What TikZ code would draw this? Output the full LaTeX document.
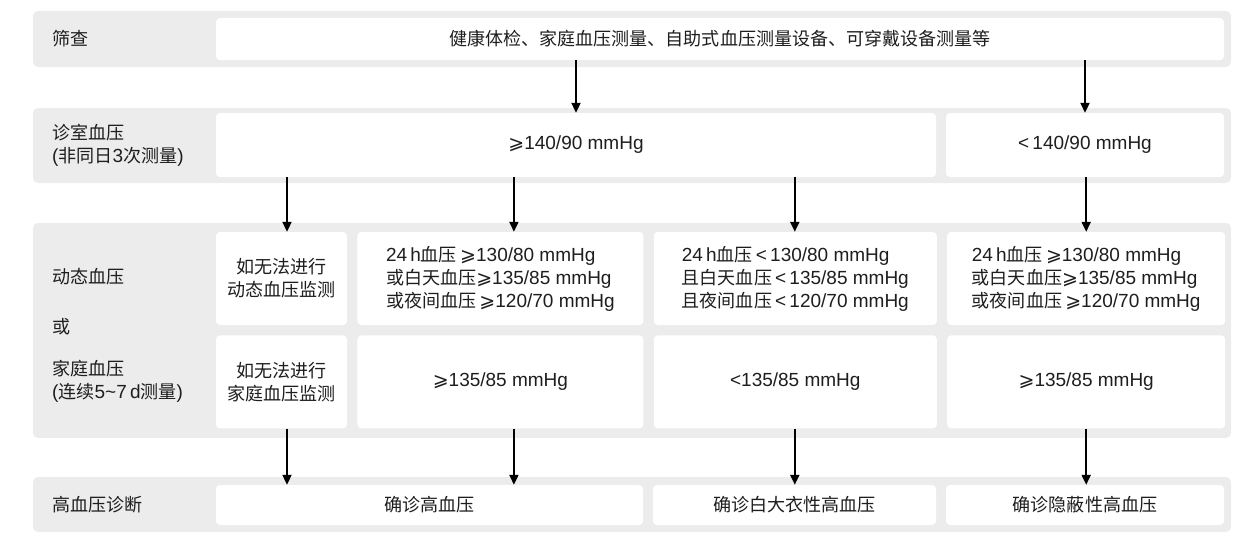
\documentclass[tikz,border=0pt]{standalone}
\usepackage{fontspec}
\setmainfont{Liberation Sans}
\newfontfamily\zhfont[Scale=0.95]{Noto Sans CJK SC}
\newfontfamily\symfont{DejaVu Sans}
\newcommand{\zh}[1]{{\zhfont #1}}
\newcommand{\geqs}{{\symfont ⩾}}
\usetikzlibrary{positioning, arrows.meta}
\definecolor{bandgray}{RGB}{236,236,236}
\definecolor{txt}{RGB}{30,30,30}
\tikzset{
>={Triangle[length=10pt, width=9pt]}, % solid arrow heads
band/.style={fill=bandgray, rounded corners=5pt, minimum width=1198pt, inner sep=0pt}, % grey stripe behind each step
cell/.style={fill=white, rounded corners=4pt, inner sep=0pt, align=center, text=txt}, % white boxes
rowlabel/.style={anchor=west, align=left, text=txt, inner sep=0pt}, % labels on the left
flow/.style={->, line width=2pt},
}

\begin{document}
\begin{tikzpicture}[x=1pt, y=-1pt, font=\fontsize{19}{23}\selectfont]
    \useasboundingbox (0,0) rectangle (1249,551);
    % stripes
    \node[band, minimum height=56pt] (screenband) at (632,39) {};
    \node[band, minimum height=75pt] (officeband) at (632,145.5) {};
    \node[band, minimum height=215pt] (outband) at (632,330.5) {};
    \node[band, minimum height=55pt] (diagband) at (632,504.5) {};
    % left labels
    \node[rowlabel] (screenlbl) at (52,39) {\zh{筛查}};
    \node[rowlabel] (officelbl) at (52,145) {\zh{诊室血压}\\(\zh{非同日}3\zh{次测量})};
    \node[rowlabel] (abplbl) at (52,277) {\zh{动态血压}};
    \node[rowlabel] (orlbl) at (52,327) {\zh{或}};
    \node[rowlabel] (hbplbl) at (52,381) {\zh{家庭血压}\\(\zh{连续}5\textasciitilde7\,d\zh{测量})};
    \node[rowlabel] (diaglbl) at (52,505) {\zh{高血压诊断}};
    % screening and office
    \node[cell, minimum width=1008pt, minimum height=42pt] (screen) at (720,39) {\zh{健康体检、家庭血压测量、自助式血压测量设备、可穿戴设备测量等}};
    \node[cell, minimum width=720pt, minimum height=64pt] (high) at (576,145) {\geqs140/90 mmHg};
    \node[cell, minimum width=278pt, minimum height=64pt] (low) at (1085,145) {<\,140/90 mmHg};
    % ambulatory / home
    \node[cell, minimum width=131pt, minimum height=93pt] (abpnone) at (281.5,278.5) {\zh{如无法进行}\\\zh{动态血压监测}};
    \node[cell, minimum width=286pt, minimum height=93pt, right=10pt of abpnone, align=left] (abphigh)
        {24\,h\zh{血压}\,\geqs130/80 mmHg\\\zh{或白天血压}\geqs135/85 mmHg\\\zh{或夜间血压}\,\geqs120/70 mmHg};
    \node[cell, minimum width=283pt, minimum height=93pt, right=10pt of abphigh, align=left] (abplow)
        {24\,h\zh{血压}\,<\,130/80 mmHg\\\zh{且白天血压}\,<\,135/85 mmHg\\\zh{且夜间血压}\,<\,120/70 mmHg};
    \node[cell, minimum width=278pt, minimum height=93pt, right=10pt of abplow, align=left] (abpmask)
        {24\,h\zh{血压}\,\geqs130/80 mmHg\\\zh{或白天血压}\geqs135/85 mmHg\\\zh{或夜间血压}\,\geqs120/70 mmHg};
    \node[cell, minimum width=131pt, minimum height=93pt, below=10pt of abpnone] (hbpnone) {\zh{如无法进行}\\\zh{家庭血压监测}};
    \node[cell, minimum width=286pt, minimum height=93pt, below=10pt of abphigh] (hbphigh) {\geqs135/85 mmHg};
    \node[cell, minimum width=283pt, minimum height=93pt, below=10pt of abplow] (hbplow) {<135/85 mmHg};
    \node[cell, minimum width=278pt, minimum height=93pt, below=10pt of abpmask] (hbpmask) {\geqs135/85 mmHg};
    % diagnosis
    \node[cell, minimum width=427pt, minimum height=40pt] (confirmed) at (429.5,505) {\zh{确诊高血压}};
    \node[cell, minimum width=283pt, minimum height=40pt] (whitecoat) at (794.5,505) {\zh{确诊白大衣性高血压}};
    \node[cell, minimum width=278pt, minimum height=40pt] (masked) at (1085,505) {\zh{确诊隐蔽性高血压}};
    % arrows
    \draw[flow] (screen.south -| high.north) -- (high.north);
    \draw[flow] (screen.south -| low.north) -- (low.north);
    \draw[flow] ([xshift=5.5pt]abpnone.north |- high.south) -- ([xshift=5.5pt]abpnone.north);
    \draw[flow] ([xshift=13.5pt]abphigh.north |- high.south) -- ([xshift=13.5pt]abphigh.north);
    \draw[flow] ([xshift=-0.5pt]abplow.north |- high.south) -- ([xshift=-0.5pt]abplow.north);
    \draw[flow] (abpmask.north |- low.south) -- (abpmask.north);
    \draw[flow] ([xshift=5.5pt]hbpnone.south) -- ([xshift=5.5pt]hbpnone.south |- confirmed.north);
    \draw[flow] ([xshift=13.5pt]hbphigh.south) -- ([xshift=13.5pt]hbphigh.south |- confirmed.north);
    \draw[flow] ([xshift=-0.5pt]hbplow.south) -- ([xshift=-0.5pt]hbplow.south |- whitecoat.north);
    \draw[flow] (hbpmask.south) -- (hbpmask.south |- masked.north);
\end{tikzpicture}
\end{document}
